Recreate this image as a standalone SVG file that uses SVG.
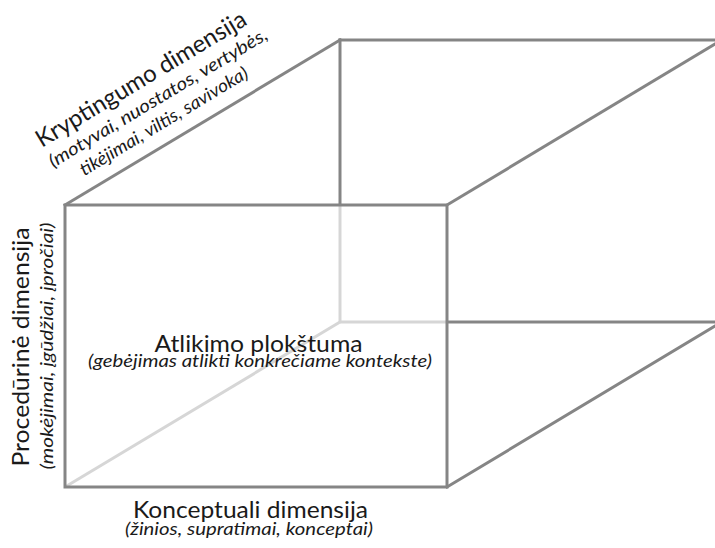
<svg xmlns="http://www.w3.org/2000/svg" width="715" height="548" viewBox="0 0 715 548">
<style>
.dk{fill:none;stroke:#858585;stroke-width:3;stroke-linejoin:miter;stroke-linecap:square}
.lt{fill:none;stroke:#d6d6d6;stroke-width:3;stroke-linecap:butt}
.t{font-family:Lato,"Open Sans","Liberation Sans",sans-serif;fill:#1a1a1a;text-anchor:middle}
.m{font-size:24px}
.s{font-size:18px;font-style:italic}
</style>
<rect width="715" height="548" fill="#ffffff"/>
<g id="hidden-edges">
<line class="lt" x1="340" y1="206" x2="340" y2="322"/>
<line class="lt" x1="340" y1="322" x2="446" y2="322"/>
<line class="lt" x1="65" y1="487" x2="340" y2="322"/>
</g>
<g id="cube-edges">
<rect class="dk" x="65" y="205" width="382" height="282"/>
<line class="dk" x1="65" y1="205" x2="340" y2="40"/>
<line class="dk" x1="340" y1="40" x2="730" y2="40"/>
<line class="dk" x1="340" y1="40" x2="340" y2="204"/>
<line class="dk" x1="447" y1="205" x2="730" y2="35"/>
<line class="dk" x1="447" y1="487" x2="730" y2="317"/>
<line class="dk" x1="448" y1="322" x2="730" y2="322"/>
</g>
<g id="kryptingumo" transform="translate(145,86) rotate(-31)">
<text class="t m" x="0" y="0" textLength="241" lengthAdjust="spacingAndGlyphs">Kryptingumo dimensija</text>
<text class="t s" x="5" y="23" textLength="252" lengthAdjust="spacingAndGlyphs">(motyvai, nuostatos, vertybės,</text>
<text class="t s" x="-2" y="46" textLength="193" lengthAdjust="spacingAndGlyphs">tikėjimai, viltis, savivoka)</text>
</g>
<g id="proceduraline" transform="translate(0,347) rotate(-90)">
<text class="t m" x="0" y="29" textLength="239" lengthAdjust="spacingAndGlyphs">Procedūrinė dimensija</text>
<text class="t s" x="1" y="53" textLength="247" lengthAdjust="spacingAndGlyphs">(mokėjimai, įgūdžiai, įpročiai)</text>
</g>
<g id="atlikimo">
<text class="t m" x="258.5" y="352" textLength="208" lengthAdjust="spacingAndGlyphs">Atlikimo plokštuma</text>
<text class="t s" x="260" y="367" textLength="344" lengthAdjust="spacingAndGlyphs">(gebėjimas atlikti konkrečiame kontekste)</text>
</g>
<g id="konceptuali">
<text class="t m" x="250.5" y="518" textLength="235" lengthAdjust="spacingAndGlyphs">Konceptuali dimensija</text>
<text class="t s" x="249" y="535" textLength="248" lengthAdjust="spacingAndGlyphs">(žinios, supratimai, konceptai)</text>
</g>
</svg>
